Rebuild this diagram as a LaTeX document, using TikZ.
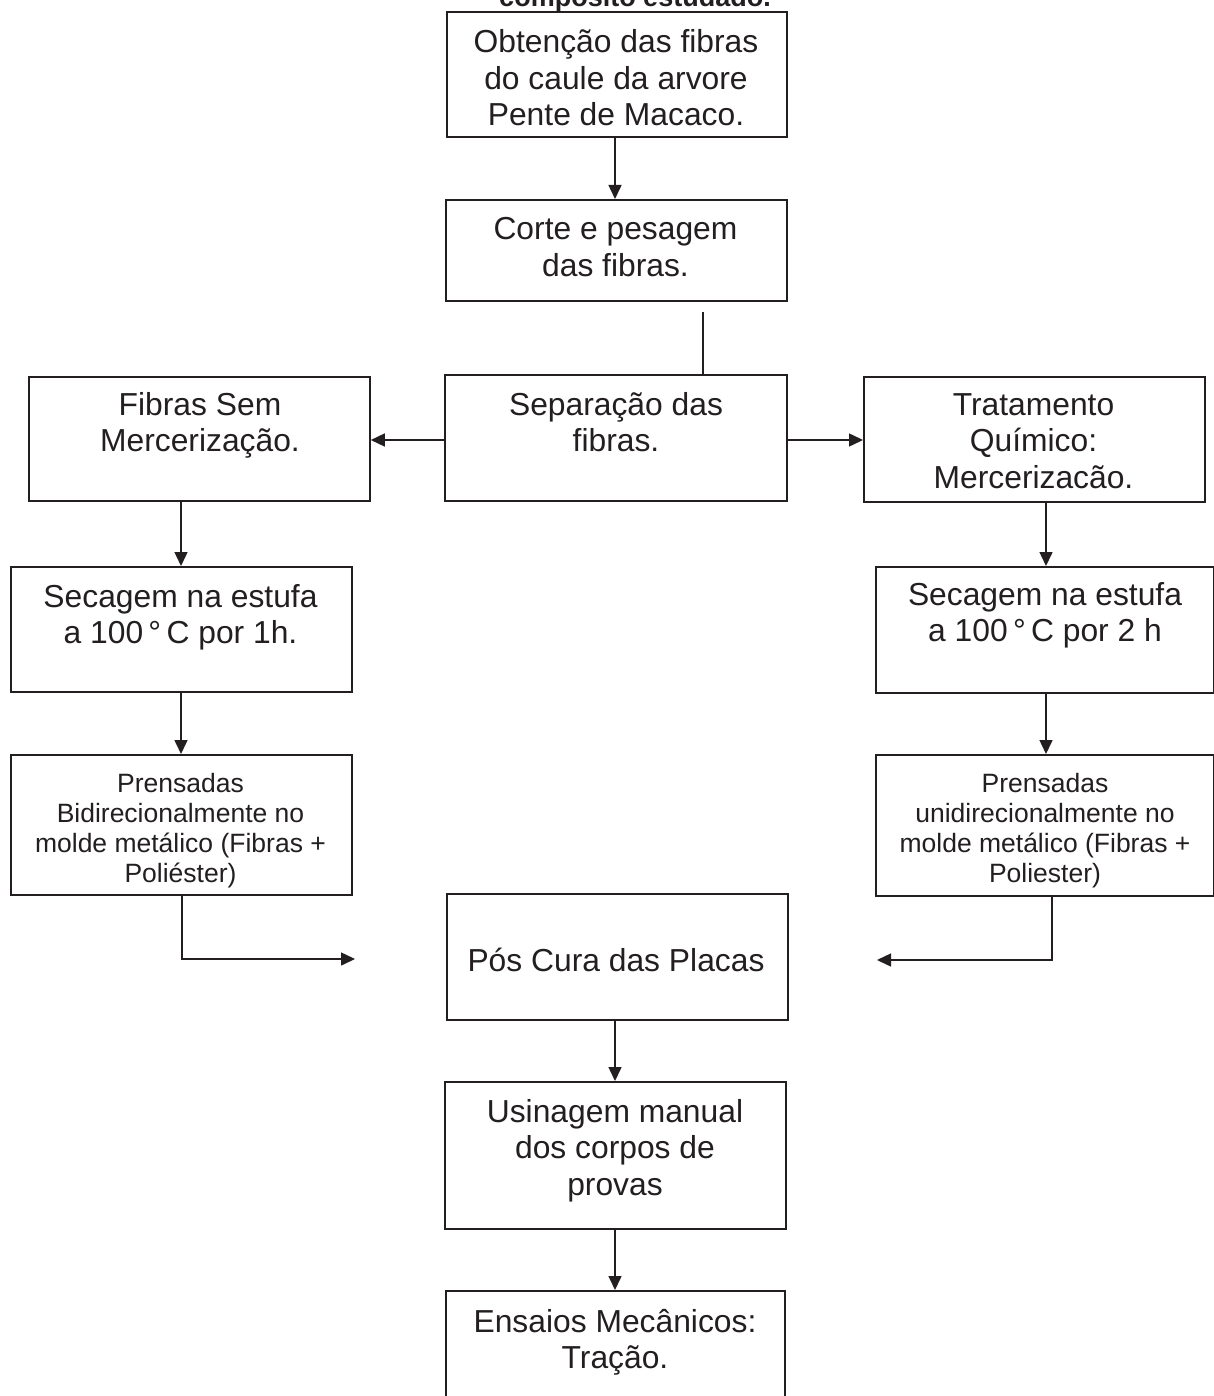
\documentclass[tikz,border=0pt]{standalone}
\usepackage{fontspec}
\setmainfont{Liberation Sans}
\usetikzlibrary{arrows.meta}
\definecolor{ink}{HTML}{231F20}
\newcommand{\ctext}[1]{\parbox[t]{420pt}{\centering #1}}
\tikzset{
  box/.style={draw=ink, line width=1.8pt, inner sep=0pt, anchor=north west},
  big/.style={text=ink, inner sep=0pt, anchor=base, font=\fontsize{31.8}{36.5}\selectfont},
  small/.style={text=ink, inner sep=0pt, anchor=base, font=\fontsize{26.5}{30}\selectfont},
  arr/.style={draw=ink, line width=1.5pt, -{Triangle[length=14pt,width=13pt]}},
  ln/.style={draw=ink, line width=1.5pt}
}
\begin{document}
\begin{tikzpicture}[x=1pt,y=-1pt]
\useasboundingbox[fill=white] (0,0) rectangle (1214,1396);
% caption (cut off at top, as in the reference)
\node[text=ink, inner sep=0pt, anchor=base, font=\bfseries\fontsize{27}{30}\selectfont] (cap) at (635,7) {compósito estudado.};
% boxes
\node[box, minimum width=340pt, minimum height=125pt] (b1) at (446,11) {};
\node[box, minimum width=341pt, minimum height=101pt] (b2) at (445,199) {};
\node[box, minimum width=342pt, minimum height=126pt] (b3) at (444,374) {};
\node[box, minimum width=341pt, minimum height=124pt] (l1) at (28,376) {};
\node[box, minimum width=341pt, minimum height=125pt] (r1) at (863,376) {};
\node[box, minimum width=341pt, minimum height=125pt] (l2) at (10,566) {};
\node[box, minimum width=338pt, minimum height=126pt] (r2) at (875,566) {};
\node[box, minimum width=341pt, minimum height=140pt] (l3) at (10,754) {};
\node[box, minimum width=338pt, minimum height=141pt] (r3) at (875,754) {};
\node[box, minimum width=341pt, minimum height=126pt] (pc) at (446,893) {};
\node[box, minimum width=341pt, minimum height=147pt] (us) at (444,1081) {};
\node[box, minimum width=339pt, minimum height=130pt] (en) at (445,1290) {};
% texts
\node[big] (t1) at (616,53) {\ctext{Obtenção das fibras\\do caule da arvore\\Pente de Macaco.}};
\node[big] (t2) at (615.5,240) {\ctext{Corte e pesagem\\das fibras.}};
\node[big] (t3) at (616,415) {\ctext{Separação das\\fibras.}};
\node[big] (tl1) at (200,415) {\ctext{Fibras Sem\\Mercerização.}};
\node[big] (tr1) at (1033.5,415) {\ctext{Tratamento\\Químico:\\Mercerizacão.}};
\node[big] (tl2) at (180.5,607) {\ctext{Secagem na estufa\\a 100\,°\,C por 1h.}};
\node[big] (tr2) at (1045,605) {\ctext{Secagem na estufa\\a 100\,°\,C por 2 h}};
\node[small] (tl3) at (180.5,792) {\ctext{Prensadas\\Bidirecionalmente no\\molde metálico (Fibras +\\Poliéster)}};
\node[small] (tr3) at (1045,792) {\ctext{Prensadas\\unidirecionalmente no\\molde metálico (Fibras +\\Poliester)}};
\node[big] (tpc) at (616,971) {\ctext{Pós Cura das Placas}};
\node[big] (tus) at (615,1122) {\ctext{Usinagem manual\\dos corpos de\\provas}};
\node[big] (ten) at (615,1332) {\ctext{Ensaios Mecânicos:\\Tração.}};
% connectors
\draw[arr] (b1.south -| 615,0) -- (b2.north -| 615,0);
\coordinate (c0) at (703,312);
\draw[ln] (c0) -- (b3.north -| c0);
\coordinate (ya) at (0,440);
\draw[arr] (b3.west |- ya) -- (l1.east |- ya);
\draw[arr] (b3.east |- ya) -- (r1.west |- ya);
\draw[arr] (l1.south -| 181,0) -- (l2.north -| 181,0);
\draw[arr] (l2.south -| 181,0) -- (l3.north -| 181,0);
\draw[arr] (r1.south -| 1046,0) -- (r2.north -| 1046,0);
\draw[arr] (r2.south -| 1046,0) -- (r3.north -| 1046,0);
\coordinate (el) at (355,959);
\coordinate (er) at (877,960);
\draw[arr] (l3.south -| 182,0) |- (el);
\draw[arr] (r3.south -| 1052,0) |- (er);
\draw[arr] (pc.south -| 615,0) -- (us.north -| 615,0);
\draw[arr] (us.south -| 615,0) -- (en.north -| 615,0);
\end{tikzpicture}
\end{document}
